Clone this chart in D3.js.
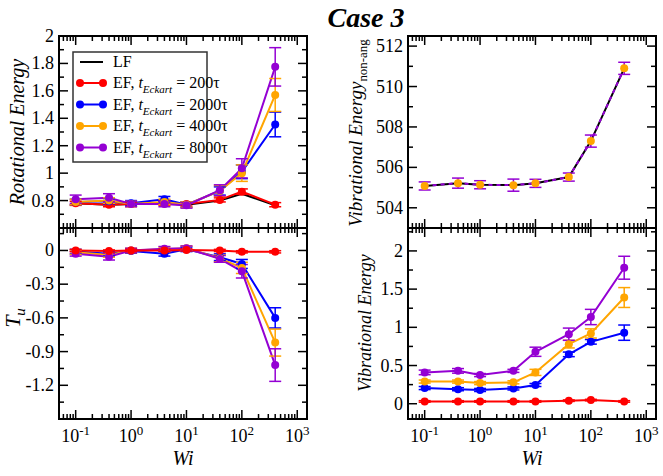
<!DOCTYPE html>
<html><head><meta charset="utf-8">
<script src="https://cdn.jsdelivr.net/npm/d3@7"></script>
<style>body{margin:0;background:#fff} text{font-family:"Liberation Serif","DejaVu Serif","Times New Roman",serif}</style>
</head><body><svg id="c" width="663" height="476"></svg>
<script>
// ---------- data ----------
const wi = [0.1, 0.4, 1, 4, 10, 40, 100, 400];
const xTickVals = [0.1, 1, 10, 100, 1000];
const xTickExps = ["-1", "0", "1", "2", "3"];
const seriesLabels = ["LF", "200τ", "2000τ", "4000τ", "8000τ"];
const seriesColors = ["#000000", "#ff0000", "#0000ff", "#ffa500", "#9400d3"];

// Rotational energy
const rotLF     = [0.78, 0.77, 0.775, 0.78, 0.77, 0.80, 0.85, 0.765];
const rot200    = [0.78, 0.77, 0.775, 0.78, 0.775, 0.805, 0.865, 0.77];
const rot200e   = [0.015, 0.015, 0.015, 0.015, 0.015, 0.015, 0.02, 0.015];
const rot2000   = [0.79, 0.795, 0.78, 0.81, 0.77, 0.87, 1.01, 1.355];
const rot2000e  = [0.02, 0.02, 0.02, 0.02, 0.02, 0.03, 0.05, 0.09];
const rot4000   = [0.79, 0.80, 0.775, 0.79, 0.77, 0.87, 1.00, 1.57];
const rot4000e  = [0.02, 0.02, 0.02, 0.02, 0.02, 0.04, 0.06, 0.12];
const rot8000   = [0.81, 0.82, 0.775, 0.775, 0.765, 0.875, 1.035, 1.775];
const rot8000e  = [0.03, 0.03, 0.02, 0.02, 0.02, 0.04, 0.07, 0.14];
const rotTicks  = [0.8, 1, 1.2, 1.4, 1.6, 1.8, 2];

// T_u
const tu200     = [0, -0.005, 0, 0, 0.005, 0, -0.012, -0.012];
const tu200e    = [0.01, 0.01, 0.01, 0.01, 0.01, 0.01, 0.01, 0.01];
const tu2000    = [-0.01, -0.03, -0.005, -0.03, 0.01, -0.06, -0.12, -0.60];
const tu2000e   = [0.02, 0.02, 0.02, 0.02, 0.02, 0.03, 0.04, 0.09];
const tu4000    = [-0.015, -0.04, 0, 0.01, 0.02, -0.07, -0.155, -0.82];
const tu4000e   = [0.02, 0.02, 0.02, 0.02, 0.02, 0.03, 0.05, 0.12];
const tu8000    = [-0.03, -0.055, 0, 0.015, 0.02, -0.075, -0.185, -1.02];
const tu8000e   = [0.02, 0.03, 0.02, 0.02, 0.02, 0.03, 0.06, 0.145];
const tuTicks   = [0, -0.3, -0.6, -0.9, -1.2];

// Vibrational energy, non-angular (all frames coincide)
const vna       = [505.08, 505.22, 505.14, 505.12, 505.21, 505.52, 507.3, 510.9];
const vnaErr    = [0.2, 0.25, 0.2, 0.3, 0.2, 0.2, 0.3, 0.3];
const vnaTicks  = [504, 506, 508, 510, 512];

// Vibrational energy
const vib200    = [0.03, 0.03, 0.03, 0.03, 0.03, 0.04, 0.048, 0.03];
const vib200e   = [0.01, 0.01, 0.01, 0.01, 0.01, 0.01, 0.01, 0.01];
const vib2000   = [0.205, 0.19, 0.18, 0.2, 0.245, 0.646, 0.81, 0.93];
const vib2000e  = [0.02, 0.02, 0.02, 0.02, 0.02, 0.03, 0.03, 0.10];
const vib4000   = [0.29, 0.29, 0.27, 0.28, 0.41, 0.78, 0.92, 1.39];
const vib4000e  = [0.02, 0.02, 0.02, 0.02, 0.04, 0.05, 0.06, 0.13];
const vib8000   = [0.41, 0.43, 0.375, 0.43, 0.68, 0.91, 1.135, 1.78];
const vib8000e  = [0.03, 0.03, 0.02, 0.02, 0.06, 0.08, 0.10, 0.15];
const vibTicks  = [0, 0.5, 1, 1.5, 2];

// ---------- drawing ----------
const FONT = "'Liberation Serif','DejaVu Serif','Times New Roman',serif";
const svg = d3.select("#c");
const XL = [59, 307], XR = [408, 656];
const YT = [36, 228], YB = [228, 419];
const xDomain = [0.05, 1500];

function fmt(v){ return String(+v.toFixed(2)); }

function panel(o){
  const x = d3.scaleLog().domain(xDomain).range(o.xr);
  const y = d3.scaleLinear().domain(o.yd).range([o.yr[1], o.yr[0]]);
  const g = svg.append("g");
  const line = d3.line().x((d,i)=>x(wi[i])).y(d=>y(d));
  o.series.forEach(s=>{
    if(s.noLine) return;
    g.append("path").attr("d", line(s.v)).attr("fill","none")
      .attr("stroke", s.c).attr("stroke-width", 2)
      .attr("stroke-dasharray", s.dash || null);
  });
  o.series.forEach(s=>{
    if(!s.e) return;
    const ec = s.ec || s.c;
    s.v.forEach((v,i)=>{
      const cx = x(wi[i]), y1 = y(v + s.e[i]), y2 = y(v - s.e[i]);
      g.append("line").attr("x1",cx).attr("x2",cx).attr("y1",y1).attr("y2",y2).attr("stroke",ec).attr("stroke-width",1.5);
      [y1,y2].forEach(yy=>g.append("line").attr("x1",cx-6).attr("x2",cx+6).attr("y1",yy).attr("y2",yy).attr("stroke",ec).attr("stroke-width",1.5));
    });
  });
  o.series.forEach(s=>{
    if(!s.m) return;
    const mc = s.mc || s.c;
    s.v.forEach((v,i)=>{
      g.append("circle").attr("cx",x(wi[i])).attr("cy",y(v)).attr("r",4).attr("fill",mc);
    });
  });
  g.append("rect").attr("x",o.xr[0]).attr("y",o.yr[0]).attr("width",o.xr[1]-o.xr[0]).attr("height",o.yr[1]-o.yr[0])
    .attr("fill","none").attr("stroke","#000").attr("stroke-width",2);
  const xmaj = [], xmin = [];
  for(let e=-2;e<=3;e++){ for(let k=1;k<=9;k++){ const v=k*Math.pow(10,e); if(v>=xDomain[0]&&v<=xDomain[1]){ (k===1?xmaj:xmin).push(v);} } }
  const tk = (x1,y1,x2,y2)=>g.append("line").attr("x1",x1).attr("y1",y1).attr("x2",x2).attr("y2",y2).attr("stroke","#000").attr("stroke-width",1.5);
  xmaj.forEach(v=>{ const xx=x(v); tk(xx,o.yr[1],xx,o.yr[1]-9); tk(xx,o.yr[0],xx,o.yr[0]+9); });
  xmin.forEach(v=>{ const xx=x(v); tk(xx,o.yr[1],xx,o.yr[1]-5); tk(xx,o.yr[0],xx,o.yr[0]+5); });
  const [ylo, yhi] = o.yd;
  const start = Math.ceil(ylo/o.minor - 1e-9);
  for(let k=start; k*o.minor<=yhi+1e-9; k++){
    const v = k*o.minor;
    const isMaj = o.yt.some(t=>Math.abs(t-v)<1e-6);
    const len = isMaj?9:5, yy=y(v);
    tk(o.xr[0],yy,o.xr[0]+len,yy); tk(o.xr[1],yy,o.xr[1]-len,yy);
  }
  o.yt.forEach(v=>{
    g.append("text").attr("x",o.xr[0]-5).attr("y",y(v)+6).attr("text-anchor","end")
      .attr("font-family",FONT).attr("font-size",18).text(fmt(v));
  });
  if(o.xlabels){
    xTickVals.forEach((v,i)=>{
      const t = g.append("text").attr("x",x(v)).attr("y",442).attr("text-anchor","middle")
        .attr("font-family",FONT).attr("font-size",18);
      t.append("tspan").text("10");
      t.append("tspan").attr("dy",-7).attr("font-size",13).text(xTickExps[i]);
    });
    g.append("text").attr("x",(o.xr[0]+o.xr[1])/2).attr("y",465).attr("text-anchor","middle")
      .attr("font-family",FONT).attr("font-size",20).attr("font-style","italic").text("Wi");
  }
  return {x,y,g};
}

panel({xr:XL, yr:YT, yd:[0.6,2], yt:rotTicks, minor:0.1, series:[
  {v:rotLF, c:seriesColors[0]},
  {v:rot200, e:rot200e, c:seriesColors[1], m:true},
  {v:rot2000, e:rot2000e, c:seriesColors[2], m:true},
  {v:rot4000, e:rot4000e, c:seriesColors[3], m:true},
  {v:rot8000, e:rot8000e, c:seriesColors[4], m:true}
]});
panel({xr:XL, yr:YB, yd:[-1.5,0.2], yt:tuTicks, minor:0.15, xlabels:true, series:[
  {v:tu2000, e:tu2000e, c:seriesColors[2], m:true},
  {v:tu4000, e:tu4000e, c:seriesColors[3], m:true},
  {v:tu8000, e:tu8000e, c:seriesColors[4], m:true},
  {v:tu200, e:tu200e, c:seriesColors[1], m:true}
]});
panel({xr:XR, yr:YT, yd:[503,512.5], yt:vnaTicks, minor:1, series:[
  {v:vna, c:seriesColors[0]},
  {v:vna, c:seriesColors[4], dash:"4,4"},
  {v:vna, e:vnaErr, c:seriesColors[3], ec:seriesColors[4], m:true, noLine:true}
]});
panel({xr:XR, yr:YB, yd:[-0.2,2.3], yt:vibTicks, minor:0.25, xlabels:true, series:[
  {v:vib200, e:vib200e, c:seriesColors[1], m:true},
  {v:vib2000, e:vib2000e, c:seriesColors[2], m:true},
  {v:vib4000, e:vib4000e, c:seriesColors[3], m:true},
  {v:vib8000, e:vib8000e, c:seriesColors[4], m:true}
]});

function ylab(cx, cy, size, main, sub, subItalic){
  const t = svg.append("text").attr("transform",`translate(${cx},${cy}) rotate(-90)`)
    .attr("text-anchor","middle").attr("font-family",FONT).attr("font-size",size);
  t.append("tspan").attr("font-style","italic").text(main);
  if(sub) t.append("tspan").attr("dy",5).attr("font-size",size*0.68)
    .attr("font-style", subItalic?"italic":"normal").text(sub);
}
ylab(24, 132, 20, "Rotational Energy");
ylab(20, 318, 22, "T", "u", true);
ylab(362, 133, 19, "Vibrational Energy", "non-ang", false);
ylab(371, 323, 18, "Vibrational Energy");

svg.append("text").attr("x",366).attr("y",27).attr("text-anchor","middle").attr("font-family",FONT)
  .attr("font-size",28).attr("font-weight","bold").attr("font-style","italic").text("Case 3");

const lg = svg.append("g");
lg.append("rect").attr("x",73).attr("y",52).attr("width",134).attr("height",110)
  .attr("fill","#fff").attr("stroke","#333").attr("stroke-width",1.5);
const rowY = [62, 83, 104.5, 126, 147.5];
seriesLabels.forEach((lab,i)=>{
  const yy = rowY[i];
  lg.append("line").attr("x1",80).attr("x2",103).attr("y1",yy).attr("y2",yy).attr("stroke",seriesColors[i]).attr("stroke-width",2);
  if(i>0){
    [80,103].forEach(xx=>lg.append("circle").attr("cx",xx).attr("cy",yy).attr("r",4).attr("fill",seriesColors[i]));
  }
  const t = lg.append("text").attr("x",113).attr("y",yy+5).attr("font-family",FONT).attr("font-size",16);
  if(i===0){ t.text(lab); }
  else {
    t.append("tspan").text("EF, ");
    t.append("tspan").attr("font-style","italic").text("t");
    t.append("tspan").attr("font-style","italic").attr("font-size",11).attr("dy",5).text("Eckart");
    t.append("tspan").attr("dy",-5).text(" = " + lab);
  }
});
</script></body></html>
